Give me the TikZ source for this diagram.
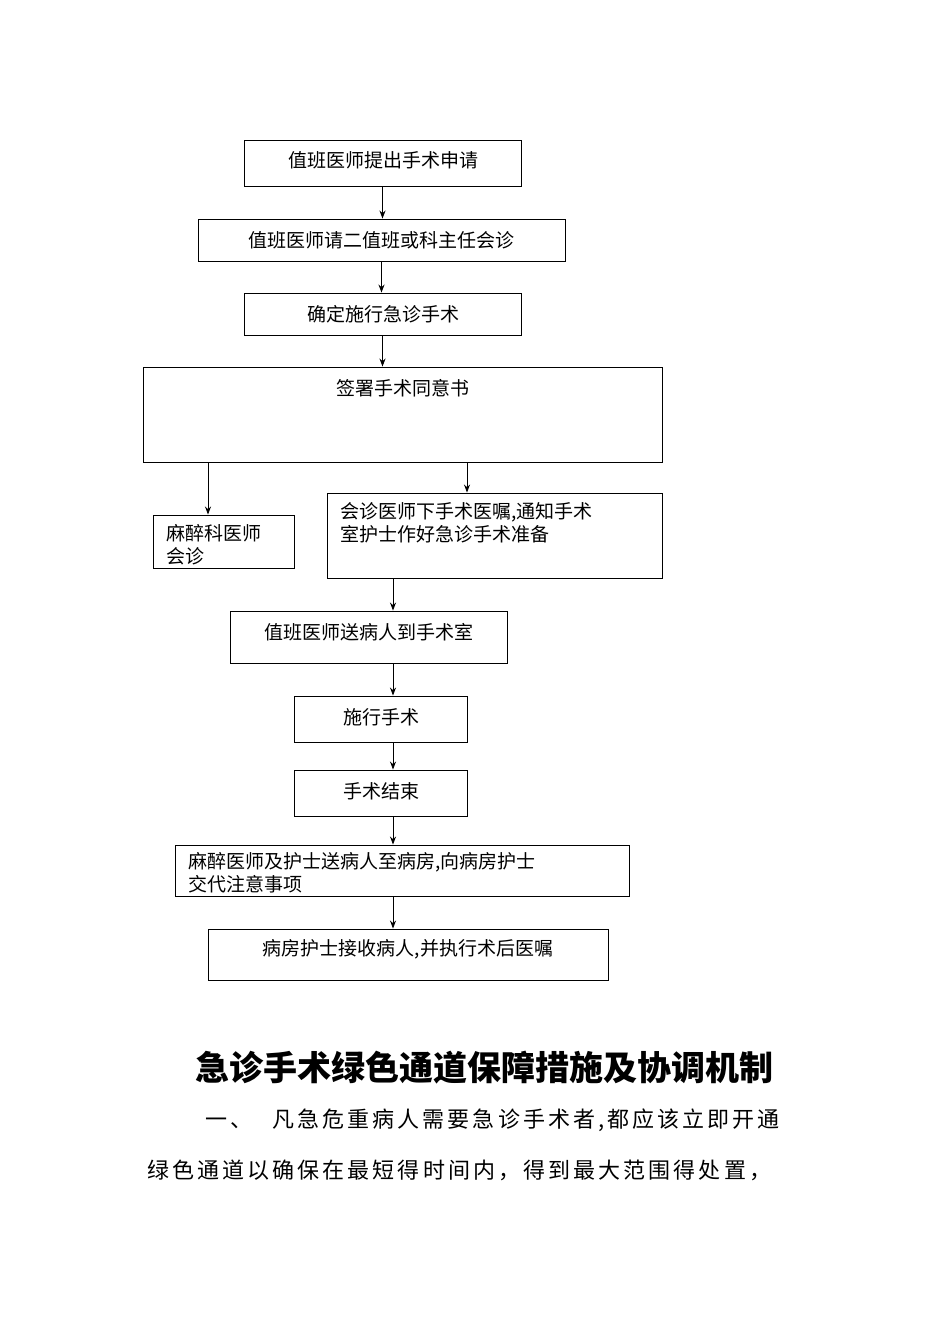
\documentclass[tikz,border=0pt]{standalone}
\usepackage{fontspec}
\setmainfont{Noto Sans CJK SC}
\newfontfamily\bodyfont[LetterSpace=14]{Noto Sans CJK SC}
\usetikzlibrary{arrows.meta}
\tikzset{bx/.style={draw,line width=0.9pt,inner sep=0},
 tx/.style={font=\fontsize{19}{23}\selectfont,inner sep=0},
 ar/.style={-{Stealth[length=8pt,width=6pt]},line width=0.9pt}}
\newcommand{\bx}[5]{\node[bx,minimum width=#4-#2,minimum height=#5-#3] (#1) at ({(#2+#4)/2},{(#3+#5)/2}) {};}
\begin{document}
\begin{tikzpicture}[x=1pt,y=-1pt]
\useasboundingbox (0,0) rectangle (950,1344);
\bx{b1}{244}{140}{521}{186}
\bx{b2}{198}{219}{565}{261}
\bx{b3}{244}{293}{521}{335}
\bx{b4}{143}{367}{662}{462}
\bx{b5}{153}{515}{294}{568}
\bx{b6}{327}{493}{662}{578}
\bx{b7}{230}{611}{507}{663}
\bx{b8}{294}{696}{467}{742}
\bx{b9}{294}{770}{467}{816}
\bx{b10}{175}{845}{629}{896}
\bx{b11}{208}{929}{608}{980}
\node[tx] (t1) at (383,160) {值班医师提出手术申请};
\node[tx] (t2) at (381,240) {值班医师请二值班或科主任会诊};
\node[tx] (t3) at (383,314) {确定施行急诊手术};
\node[tx] (t4) at (403,388) {签署手术同意书};
\node[tx,anchor=north west,align=left] (t5) at (166,524) {麻醉科医师\\会诊};
\node[tx,anchor=north west,align=left] (t6) at (340,502) {会诊医师下手术医嘱,通知手术\\室护士作好急诊手术准备};
\node[tx] (t7) at (369,632) {值班医师送病人到手术室};
\node[tx] (t8) at (381,717) {施行手术};
\node[tx] (t9) at (381,791) {手术结束};
\node[tx,anchor=north west,align=left] (t10) at (188,852) {麻醉医师及护士送病人至病房,向病房护士\\交代注意事项};
\node[tx] (t11) at (408,949) {病房护士接收病人,并执行术后医嘱};
\draw[ar] (b1.south) -- (b1.south|-b2.north);
\draw[ar] (b2.south) -- (b2.south|-b3.north);
\draw[ar] (b3.south) -- (b3.south|-b4.north);
\draw[ar] (208,462) coordinate (c1) -- (c1|-b5.north);
\draw[ar] (467,462) coordinate (c2) -- (c2|-b6.north);
\draw[ar] (393,578) coordinate (c3) -- (c3|-b7.north);
\draw[ar] (393,663) coordinate (c4) -- (c4|-b8.north);
\draw[ar] (b8.south-|c4) -- (b9.north-|c4);
\draw[ar] (b9.south-|c4) -- (b10.north-|c4);
\draw[ar] (b10.south-|c4) -- (b11.north-|c4);
\node[font=\fontsize{34}{40}\selectfont\bfseries,inner sep=0] (title) at (484,1068) {急诊手术绿色通道保障措施及协调机制};
\node[font=\fontsize{22}{26}\bodyfont,inner sep=0,anchor=west] (p1) at (205,1120) {一、\hspace{20pt}凡急危重病人需要急诊手术者,都应该立即开通};
\node[font=\fontsize{22}{26}\bodyfont,inner sep=0,anchor=west] (p2) at (147,1170) {绿色通道以确保在最短得时间内，得到最大范围得处置，};
\end{tikzpicture}
\end{document}
